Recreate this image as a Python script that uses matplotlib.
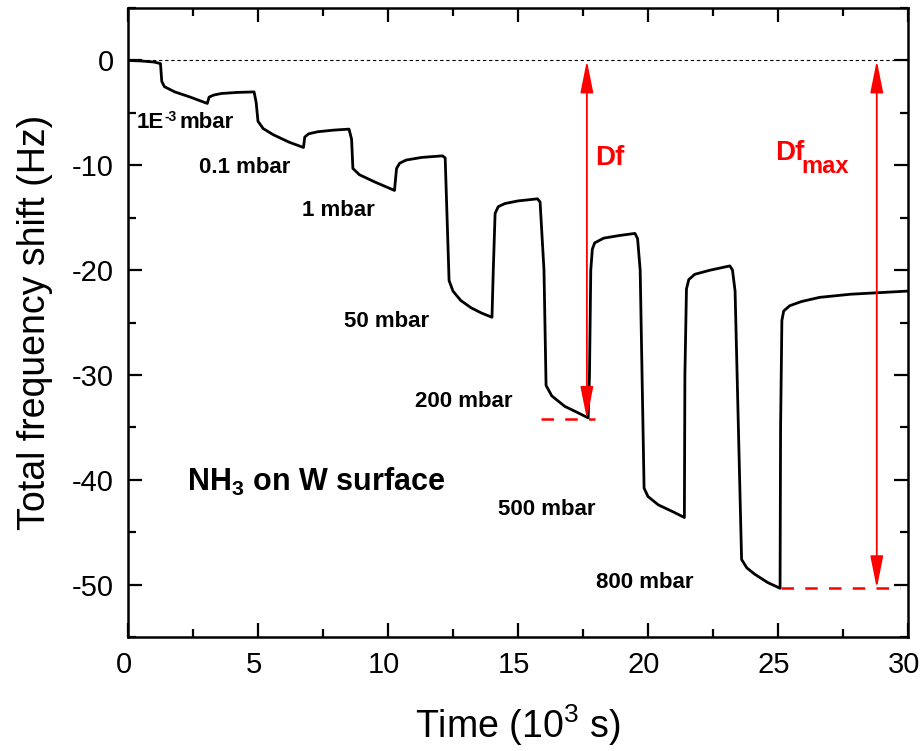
import numpy as np
import matplotlib
matplotlib.use('Agg')
import matplotlib.pyplot as plt
import matplotlib.transforms as mtransforms
from matplotlib.ticker import MultipleLocator

plt.rcParams['font.family'] = ['Liberation Sans', 'DejaVu Sans']
plt.rcParams['mathtext.fontset'] = 'custom'
plt.rcParams['mathtext.rm'] = 'Liberation Sans'
plt.rcParams['mathtext.bf'] = 'Liberation Sans:bold'
plt.rcParams['axes.unicode_minus'] = False

# frequency shift trace, time in 10^3 s, shift in Hz
time = [0.0, 0.5, 1.0, 1.25,
        1.3, 1.4, 1.8, 2.4, 3.05,
        3.12, 3.3, 3.6, 4.2, 4.85,
        4.93, 5.0, 5.2, 5.6, 6.2, 6.75,
        6.8, 6.95, 7.3, 7.9, 8.5,
        8.6, 8.65, 8.9, 9.5, 10.25,
        10.33, 10.45, 10.7, 11.3, 12.1,
        12.2, 12.35, 12.5, 12.8, 13.2, 13.6, 14.0,
        14.05, 14.12, 14.24, 14.5, 15.0, 15.75,
        15.85, 16.0, 16.08, 16.3, 16.8, 17.3, 17.7,
        17.75, 17.8, 17.86, 17.95, 18.3, 18.9, 19.5,
        19.6, 19.7, 19.85, 20.0, 20.4, 21.0, 21.4,
        21.42, 21.48, 21.57, 21.8, 22.4, 23.15,
        23.25, 23.35, 23.6, 23.8, 24.1, 24.6, 25.08,
        25.1, 25.15, 25.22, 25.45, 25.9, 26.6, 27.8, 30.0]
shift = [0.0, -0.05, -0.15, -0.3,
         -2.0, -2.5, -3.0, -3.5, -4.1,
         -3.5, -3.3, -3.15, -3.05, -3.0,
         -4.0, -5.8, -6.5, -7.1, -7.8, -8.3,
         -7.3, -7.0, -6.8, -6.65, -6.55,
         -7.5, -10.3, -10.9, -11.6, -12.4,
         -10.3, -9.8, -9.5, -9.25, -9.1,
         -9.3, -21.0, -22.0, -22.9, -23.6, -24.1, -24.5,
         -20.0, -14.6, -13.95, -13.65, -13.4, -13.2,
         -13.5, -20.0, -31.0, -32.0, -33.0, -33.6, -34.1,
         -30.0, -20.0, -18.0, -17.4, -16.95, -16.7, -16.5,
         -17.0, -20.0, -40.8, -41.6, -42.4, -43.1, -43.6,
         -30.0, -21.8, -20.9, -20.4, -20.0, -19.6,
         -20.0, -22.0, -47.6, -48.4, -49.0, -49.8, -50.35,
         -35.0, -24.8, -23.9, -23.4, -23.0, -22.6, -22.3, -22.0]

labels = ['0.1 mbar', '1 mbar', '50 mbar', '200 mbar', '500 mbar', '800 mbar']
label_t = [2.72, 6.7, 8.31, 11.03, 14.24, 18.0]
label_y = [-10.75, -14.8, -25.4, -33.05, -43.4, -50.3]

df_t, df_y = 17.65, -34.2
dfmax_t, dfmax_y = 28.8, -50.35

fig = plt.figure(figsize=(9.22, 7.51), dpi=100)
ax = fig.add_axes([0.1388, 0.1518, 0.8460, 0.8375])

ax.plot([0, 30], [0, 0], color='black', lw=0.8, dashes=(3, 2.5))
ax.plot(time, shift, color='black', lw=2.0)

# 1E-3 mbar label with a small hyphen exponent
ax.text(1.38, -6.4, '1E', fontsize=16, fontweight='bold', va='baseline', ha='right')
ax.text(1.42, -5.75, '-3', fontsize=10, fontweight='bold', va='baseline')
ax.text(1.99, -6.4, 'mbar', fontsize=16, fontweight='bold', va='baseline')
for s, tx, ty in zip(labels, label_t, label_y):
    ax.text(tx, ty, s, fontsize=16, fontweight='bold', va='baseline', ha='left')

ax.text(2.26, -41.1, 'NH$_\\mathbf{3}$ on W surface', fontsize=22,
        fontweight='bold', va='baseline')

# red markers for the frequency shifts
ax.plot([15.9, 17.95], [df_y, df_y], color='red', lw=1.8, dashes=(5, 4.5))
ax.plot([25.1, 29.7], [dfmax_y, dfmax_y], color='red', lw=1.8, dashes=(5, 4.5))
aprops = dict(arrowstyle='<|-|>,head_length=1.1,head_width=0.22', color='red',
              lw=1.3, shrinkA=0, shrinkB=0, mutation_scale=18)
ax.annotate('', xy=(df_t, df_y), xytext=(df_t, 0), arrowprops=aprops)
ax.annotate('', xy=(dfmax_t, dfmax_y), xytext=(dfmax_t, 0), arrowprops=aprops)
ax.text(17.96, -9.96, 'Df', color='red', fontsize=20, fontweight='bold', va='baseline')
ax.text(24.9, -9.5, 'Df', color='red', fontsize=20, fontweight='bold', va='baseline')
ax.text(25.89, -10.75, 'max', color='red', fontsize=17, fontweight='bold', va='baseline')

ax.set_xlim(0, 30)
ax.set_ylim(-55, 5)
ax.xaxis.set_major_locator(MultipleLocator(5))
ax.xaxis.set_minor_locator(MultipleLocator(2.5))
ax.yaxis.set_major_locator(MultipleLocator(10))
ax.yaxis.set_minor_locator(MultipleLocator(5))
ax.tick_params(which='both', direction='in', top=True, right=True, width=1.6,
               labelsize=21)
ax.tick_params(which='major', length=10, pad=10)
ax.tick_params(which='minor', length=6)
for sp in ax.spines.values():
    sp.set_linewidth(1.8)

shift_left = mtransforms.ScaledTranslation(-4 / 100, 0, fig.dpi_scale_trans)
for lab in ax.get_xticklabels():
    lab.set_transform(lab.get_transform() + shift_left)

ax.set_xlabel('Time (10$^3$ s)', fontsize=27, labelpad=17)
ax.set_ylabel('Total frequency shift (Hz)', fontsize=27, labelpad=14)

fig.savefig('out.png', dpi=100)
